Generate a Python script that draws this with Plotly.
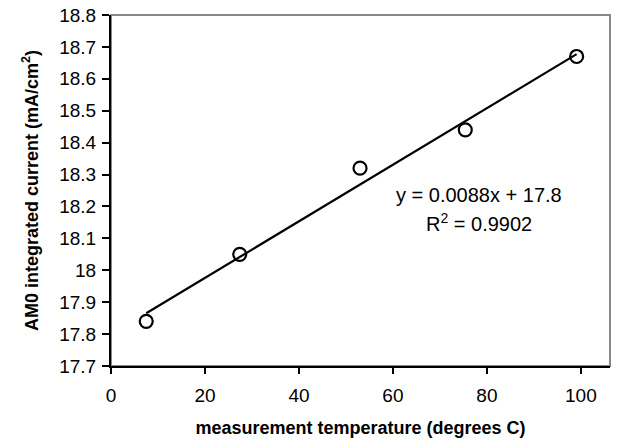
import numpy as np
import plotly.graph_objects as go

temperature = [7.5, 27.4, 53.0, 75.4, 99.1]
current = [17.84, 18.05, 18.32, 18.44, 18.67]
x_ticks = [0, 20, 40, 60, 80, 100]
y_ticks = [17.7, 17.8, 17.9, 18.0, 18.1, 18.2, 18.3, 18.4, 18.5, 18.6, 18.7, 18.8]
y_tick_labels = ["17.7", "17.8", "17.9", "18", "18.1", "18.2", "18.3", "18.4", "18.5", "18.6", "18.7", "18.8"]

slope, intercept = np.polyfit(temperature, current, 1)
fit_x = [min(temperature), max(temperature)]
fit_y = [slope * v + intercept for v in fit_x]

font = "Liberation Sans, Arial, sans-serif"

fig = go.Figure()
fig.add_trace(go.Scatter(x=fit_x, y=fit_y, mode="lines",
                         line=dict(color="black", width=2.2), showlegend=False))
fig.add_trace(go.Scatter(x=temperature, y=current, mode="markers",
                         marker=dict(symbol="circle-open", size=13, color="black",
                                     line=dict(width=2.2, color="black")),
                         showlegend=False))

fig.add_annotation(x=0.737, y=0.487, xref="paper", yref="paper",
                   xanchor="center", yanchor="middle",
                   text="y = 0.0088x + 17.8", showarrow=False,
                   font=dict(family=font, size=20, color="black"))
fig.add_annotation(x=0.737, y=0.409, xref="paper", yref="paper",
                   xanchor="center", yanchor="middle",
                   text="R<sup>2</sup> = 0.9902", showarrow=False,
                   font=dict(family=font, size=20, color="black"))

# grey frame on top/right
fig.add_shape(type="rect", xref="paper", yref="paper", x0=0, y0=0, x1=1, y1=1,
              line=dict(color="#888888", width=2), layer="below")

fig.update_layout(
    width=630, height=444,
    margin=dict(l=111, r=20, t=15, b=78),
    paper_bgcolor="white", plot_bgcolor="white",
    font=dict(family=font, size=19, color="black"),
    xaxis=dict(range=[0, 106.2], tickvals=x_ticks, ticks="outside", ticklen=6,
               tickcolor="black", tickwidth=1.5, showline=True, linecolor="black",
               linewidth=2, showgrid=False, zeroline=False, automargin=False,
               ticklabelstandoff=5,
               tickfont=dict(family=font, size=19),
               title=dict(text="<b>measurement temperature (degrees C)</b>",
                          font=dict(family=font, size=18), standoff=17)),
    yaxis=dict(range=[17.7, 18.8], tickvals=y_ticks, ticktext=y_tick_labels,
               ticks="outside", ticklen=7, tickcolor="black", tickwidth=1.5,
               showline=True, linecolor="black", linewidth=2, showgrid=False,
               zeroline=False, automargin=False, ticklabelstandoff=2,
               ticklabeloverflow="allow",
               tickfont=dict(family=font, size=19),
               title=dict(text="<b>AM0 integrated current (mA/cm<sup>2</sup>)</b>",
                          font=dict(family=font, size=18), standoff=16)),
)

fig.write_html("out.html",
               config={"displayModeBar": False},
               post_script="document.body.style.margin='0';document.body.style.overflow='hidden';")
